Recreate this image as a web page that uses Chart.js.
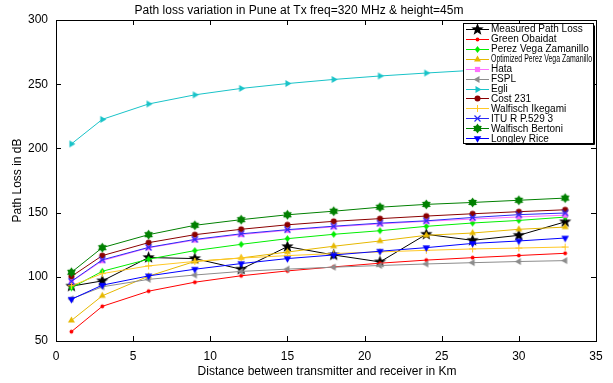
<!DOCTYPE html>
<html>
<head>
<meta charset="utf-8">
<script src="https://cdn.jsdelivr.net/npm/chart.js@4/dist/chart.umd.min.js"></script>
<style>
  html, body { margin: 0; padding: 0; background: #ffffff; }
  #wrap { width: 613px; height: 383px; }
</style>
</head>
<body>
<div id="wrap"><canvas id="pl" width="613" height="383"></canvas></div>
<script>
// Distance from the transmitter (km) at which each model was evaluated
const distanceKm = [1, 3, 6, 9, 12, 15, 18, 21, 24, 27, 30, 33];

// Path loss per model, dB
const measured        = [92.7, 96.8, 115.0, 114.2, 105.9, 123.5, 117.0, 111.6, 133.1, 128.4, 132.3, 142.8];
const greenObaidat    = [57.3, 77.0, 88.8, 95.8, 100.8, 104.6, 107.7, 110.6, 113.0, 114.9, 116.6, 118.3];
const perezVega       = [91.4, 104.3, 113.7, 120.4, 125.3, 129.7, 133.1, 135.9, 139.3, 141.9, 143.9, 146.5];
const optimizedPerez  = [66.0, 85.2, 100.5, 112.0, 114.7, 119.3, 123.8, 127.9, 132.3, 134.1, 137.0, 138.7];
const hata            = [96.2, 112.5, 122.6, 128.6, 132.9, 136.2, 138.9, 141.2, 143.2, 145.0, 146.6, 148.0];
const fspl            = [82.8, 92.2, 98.0, 101.4, 104.2, 106.0, 107.5, 108.8, 110.0, 111.0, 111.9, 112.6];
const egli            = [203.5, 222.6, 234.6, 241.7, 246.7, 250.5, 253.7, 256.4, 258.7, 260.8, 262.6, 264.2];
const cost231         = [100.3, 116.5, 126.6, 132.8, 137.0, 140.5, 143.2, 145.3, 147.3, 149.1, 150.7, 152.2];
const walfischIkegami = [93.0, 102.5, 108.5, 112.0, 114.6, 116.5, 118.1, 119.4, 120.6, 121.7, 122.4, 123.2];
const ituR529         = [96.5, 113.2, 122.9, 129.1, 133.5, 136.7, 139.4, 141.8, 143.6, 146.2, 148.4, 149.7];
const walfischBertoni = [103.5, 122.7, 132.8, 140.1, 144.5, 148.3, 151.1, 154.2, 156.4, 157.9, 159.6, 161.3];
const longleyRice     = [82.5, 93.5, 100.7, 105.9, 110.3, 114.2, 117.0, 119.9, 122.7, 126.0, 127.9, 130.2];

// Axis ticks
const xTicks = [0, 5, 10, 15, 20, 25, 30, 35];
const yTicks = [50, 100, 150, 200, 250, 300];

const FONT = "'Liberation Sans', Arial, Helvetica, sans-serif";

// Small canvas sprites used as point markers (also reused in the legend)
function makeMarker(kind, r, color) {
  const S = Math.ceil(r * 2 + 4) | 1;
  const c = document.createElement('canvas');
  c.width = S; c.height = S;
  const g = c.getContext('2d');
  const cx = S / 2, cy = S / 2;
  g.fillStyle = color; g.strokeStyle = color; g.lineWidth = 1;
  g.beginPath();
  const poly = (pts) => { pts.forEach((p, i) => i ? g.lineTo(p[0], p[1]) : g.moveTo(p[0], p[1])); g.closePath(); g.fill(); };
  const star = (n, rin, rot) => {
    const pts = [];
    for (let k = 0; k < n * 2; k++) {
      const a = rot + k * Math.PI / n;
      const rr = k % 2 ? rin : r;
      pts.push([cx + rr * Math.sin(a), cy - rr * Math.cos(a)]);
    }
    poly(pts);
  };
  const tri = (rot) => {
    const pts = [];
    for (let k = 0; k < 3; k++) {
      const a = rot + k * 2 * Math.PI / 3;
      pts.push([cx + r * Math.sin(a), cy - r * Math.cos(a)]);
    }
    poly(pts);
  };
  switch (kind) {
    case 'pentagram': star(5, r * 0.42, 0); break;
    case 'hexagram': star(6, r * 0.62, 0); break;
    case 'circle': g.arc(cx, cy, r, 0, Math.PI * 2); g.fill(); break;
    case 'diamond': poly([[cx, cy - r], [cx + r * 0.8, cy], [cx, cy + r], [cx - r * 0.8, cy]]); break;
    case 'square': poly([[cx - r, cy - r], [cx + r, cy - r], [cx + r, cy + r], [cx - r, cy + r]]); break;
    case 'triUp': tri(0); break;
    case 'triDown': tri(Math.PI); break;
    case 'triLeft': tri(-Math.PI / 2); break;
    case 'triRight': tri(Math.PI / 2); break;
    case 'plus':
      g.moveTo(cx - r, cy); g.lineTo(cx + r, cy); g.moveTo(cx, cy - r); g.lineTo(cx, cy + r); g.stroke(); break;
    case 'x':
      g.lineWidth = 1.2;
      g.moveTo(cx - r, cy - r); g.lineTo(cx + r, cy + r); g.moveTo(cx + r, cy - r); g.lineTo(cx - r, cy + r); g.stroke(); break;
  }
  return c;
}

const seriesDefs = [
  { label: 'Measured Path Loss',            values: measured,        color: '#000000', marker: makeMarker('pentagram', 6.5, '#000000') },
  { label: 'Green Obaidat',                 values: greenObaidat,    color: '#ff0000', marker: makeMarker('circle', 1.9, '#ff0000') },
  { label: 'Perez Vega Zamanillo',          values: perezVega,       color: '#00ee00', marker: makeMarker('diamond', 3.4, '#00ee00') },
  { label: 'Optimized Perez Vega Zamanillo',values: optimizedPerez,  color: '#e6b800', marker: makeMarker('triUp', 4.0, '#e6b800') },
  { label: 'Hata',                          values: hata,            color: '#ff70ff', marker: makeMarker('square', 2.6, '#ff70ff') },
  { label: 'FSPL',                          values: fspl,            color: '#8c8c8c', marker: makeMarker('triLeft', 4.0, '#8c8c8c') },
  { label: 'Egli',                          values: egli,            color: '#19c3c8', marker: makeMarker('triRight', 4.0, '#19c3c8') },
  { label: 'Cost 231',                      values: cost231,         color: '#8b0000', marker: makeMarker('circle', 3.0, '#8b0000') },
  { label: 'Walfisch Ikegami',              values: walfischIkegami, color: '#ffc825', marker: makeMarker('plus', 3.5, '#ffc825') },
  { label: 'ITU R P.529 3',                 values: ituR529,         color: '#2a2af5', marker: makeMarker('x', 3.0, '#2a2af5') },
  { label: 'Walfisch Bertoni',              values: walfischBertoni, color: '#008000', marker: makeMarker('hexagram', 5.0, '#008000') },
  { label: 'Longley Rice',                  values: longleyRice,     color: '#0000ff', marker: makeMarker('triDown', 4.3, '#0000ff') }
];

const datasets = seriesDefs.map((s, i) => ({
  label: s.label,
  data: distanceKm.map((d, k) => ({ x: d, y: s.values[k] })),
  borderColor: s.color,
  backgroundColor: s.color,
  borderWidth: 1,
  pointStyle: s.marker,
  pointRadius: 4,
  pointHoverRadius: 4,
  tension: 0,
  // later series are painted over earlier ones
  order: seriesDefs.length - i
}));

// Box, inward tick marks, titles and the boxed legend
const decorations = {
  id: 'decorations',
  afterDatasetsDraw(chart) {
    const ctx = chart.ctx;
    const a = chart.chartArea;
    const xs = chart.scales.x, ys = chart.scales.y;
    ctx.save();
    ctx.strokeStyle = '#000000';
    ctx.lineWidth = 1;
    ctx.beginPath();
    xTicks.forEach(v => {
      const px = Math.round(xs.getPixelForValue(v)) + 0.5;
      ctx.moveTo(px, a.bottom); ctx.lineTo(px, a.bottom - 5);
      ctx.moveTo(px, a.top); ctx.lineTo(px, a.top + 5);
    });
    yTicks.forEach(v => {
      const py = Math.round(ys.getPixelForValue(v)) + 0.5;
      ctx.moveTo(a.left, py); ctx.lineTo(a.left + 5, py);
      ctx.moveTo(a.right, py); ctx.lineTo(a.right - 5, py);
    });
    ctx.stroke();
    ctx.strokeRect(Math.round(a.left) + 0.5, Math.round(a.top) + 0.5,
                   Math.round(a.right - a.left), Math.round(a.bottom - a.top));

    // legend
    const L = 463.5, T = 23.5, R = 593.5, B = 143.5;
    ctx.fillStyle = '#ffffff';
    ctx.fillRect(L, T, R - L, B - T);
    ctx.strokeStyle = '#000000';
    ctx.lineWidth = 1;
    ctx.strokeRect(L, T, R - L, B - T);
    ctx.beginPath();
    ctx.moveTo(R + 1, T + 2); ctx.lineTo(R + 1, B + 1); ctx.lineTo(L + 2, B + 1);
    ctx.stroke();
    ctx.font = '10px ' + FONT;
    ctx.textBaseline = 'middle';
    ctx.textAlign = 'left';
    seriesDefs.forEach((s, i) => {
      const cy = 28.8 + i * 9.95;
      ctx.strokeStyle = s.color;
      ctx.beginPath();
      ctx.moveTo(466, Math.round(cy) + 0.5); ctx.lineTo(489, Math.round(cy) + 0.5);
      ctx.stroke();
      const m = s.marker;
      ctx.drawImage(m, 477.5 - m.width / 2, Math.round(cy) + 0.5 - m.height / 2);
      ctx.fillStyle = '#000000';
      ctx.fillText(s.label, 491, cy + 0.5, 101);
    });

    // titles
    ctx.fillStyle = '#000000';
    ctx.font = '12px ' + FONT;
    ctx.textAlign = 'center';
    ctx.textBaseline = 'middle';
    ctx.fillText('Path loss variation in Pune at Tx freq=320 MHz & height=45m', 299, 11);
    ctx.fillText('Distance between transmitter and receiver in Km', 327, 372);
    ctx.translate(17.5, (a.top + a.bottom) / 2);
    ctx.rotate(-Math.PI / 2);
    ctx.fillText('Path Loss in dB', 0, 0);
    ctx.restore();
  }
};

new Chart(document.getElementById('pl'), {
  type: 'line',
  data: { datasets },
  options: {
    responsive: false,
    animation: false,
    events: [],
    layout: { padding: { top: 20, right: 17, left: 0, bottom: 0 } },
    plugins: { legend: { display: false }, title: { display: false }, tooltip: { enabled: false } },
    scales: {
      x: {
        type: 'linear', min: 0, max: 35,
        afterBuildTicks(scale) { scale.ticks = xTicks.map(v => ({ value: v })); },
        afterFit(scale) { scale.height = 42; },
        grid: { display: false, drawTicks: false },
        border: { display: false },
        ticks: { color: '#000000', padding: 8, maxRotation: 0, font: { family: FONT, size: 12 } }
      },
      y: {
        type: 'linear', min: 50, max: 300,
        afterBuildTicks(scale) { scale.ticks = yTicks.map(v => ({ value: v })); },
        afterFit(scale) { scale.width = 56; },
        grid: { display: false, drawTicks: false },
        border: { display: false },
        ticks: { color: '#000000', padding: 8, font: { family: FONT, size: 12 } }
      }
    }
  },
  plugins: [decorations]
});
</script>
</body>
</html>
